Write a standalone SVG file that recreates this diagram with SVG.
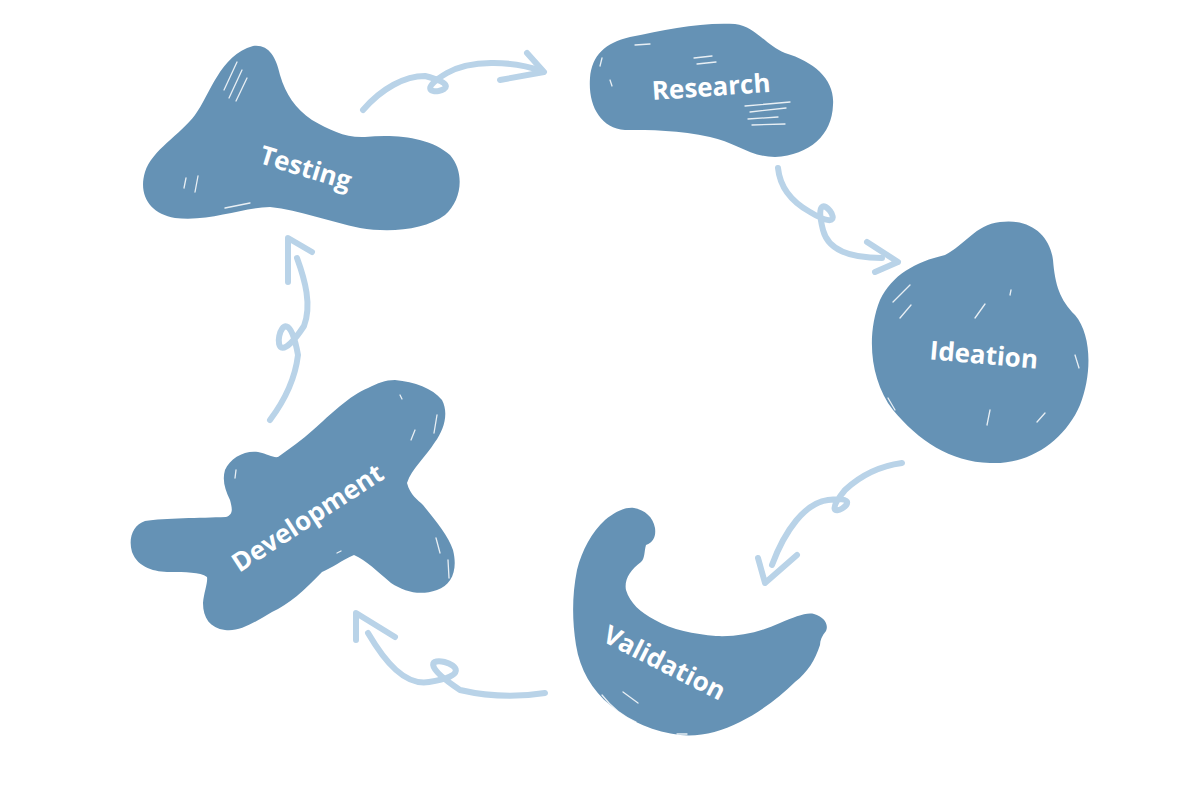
<svg xmlns="http://www.w3.org/2000/svg" width="1200" height="800" viewBox="0 0 1200 800">
<style>
.blob{fill:#6592b5;}
.scr{fill:none;stroke:#ffffff;stroke-width:1.3;stroke-linecap:round;opacity:0.85;}
.lbl{font-family:"Open Sans","Liberation Sans",sans-serif;font-weight:700;font-size:26px;fill:#ffffff;text-anchor:middle;dominant-baseline:central;}
.arr{fill:none;stroke:#b9d3e8;stroke-width:6;stroke-linecap:round;stroke-linejoin:round;}
</style>
<rect width="1200" height="800" fill="#ffffff"/>
<g id="connectors">
  <g id="testing-to-research">
    <path class="arr" d="M363,110 C382,88 405,76 425,76 C483,90 396,103 447,73 C470,60 510,60 542,71"/>
    <path class="arr" d="M527,53 L544,72 L500,80"/>
  </g>
  <g id="research-to-ideation">
    <path class="arr" d="M778,168 C780,188 792,202 810,212 C861,243 808,172 823,230 C828,250 850,258 882,258"/>
    <path class="arr" d="M867,242 L898,262 L875,272"/>
  </g>
  <g id="ideation-to-validation">
    <path class="arr" d="M902,463 C880,466 860,476 845,490 C810,533 878,493 828,500 C805,503 785,530 772,565"/>
    <path class="arr" d="M758,558 L765,583 L797,555"/>
  </g>
  <g id="validation-to-development">
    <path class="arr" d="M545,693 C520,697 490,697 460,690 C382,638 507,670 429,682 C405,686 385,662 368,633"/>
    <path class="arr" d="M356,640 L356,613 L395,637"/>
  </g>
  <g id="development-to-testing">
    <path class="arr" d="M270,420 C285,400 295,380 298,355 C284,276 260,393 304,326 C312,305 305,280 297,258"/>
    <path class="arr" d="M288,282 L288,238 L312,252"/>
  </g>
</g>
<g id="node-testing">
  <path class="blob" d="M253,46 C268,44 276,56 280,75 C286,95 295,108 312,120 C330,130 345,138 365,137 C395,134 430,137 450,155 C465,172 462,200 445,215 C425,230 390,233 360,228 C330,222 300,210 270,207 C240,208 210,222 175,218 C150,214 138,195 145,172 C152,150 180,135 195,115 C210,95 220,55 253,46 Z"/>
  <path class="scr" d="M237,62 L224,90 M242,70 L229,98 M247,78 L236,101 M186,178 L184,188 M198,176 L195,192 M225,208 L250,203"/>
  <text class="lbl" x="306" y="167" transform="rotate(17 306 167)">Testing</text>
</g>
<g id="node-research">
  <path class="blob" d="M590,78 C592,55 605,43 630,37 C665,30 700,22 735,24 C755,26 765,45 785,53 C815,62 835,80 833,105 C832,135 810,155 775,157 C750,157 735,142 710,137 C680,130 650,130 625,130 C600,128 588,105 590,78 Z"/>
  <path class="scr" d="M635,45 L650,44 M694,58 L712,56 M697,64 L716,62 M745,106 L790,102 M750,112 L786,108 M748,119 L778,117 M752,125 L785,124 M602,58 L600,66 M610,80 L612,86"/>
  <text class="lbl" x="711" y="86" transform="rotate(-4 711 86)">Research</text>
</g>
<g id="node-ideation">
  <path class="blob" d="M1000,222 C1030,218 1050,235 1053,260 C1055,285 1060,300 1075,315 C1092,335 1092,375 1080,405 C1065,440 1030,465 990,463 C950,462 918,440 893,410 C870,380 866,335 880,300 C892,275 915,262 945,255 C965,245 975,225 1000,222 Z"/>
  <path class="scr" d="M938,253 L955,235 M893,302 L910,285 M900,318 L911,305 M975,318 L985,304 M1010,295 L1011,290 M990,410 L987,425 M1037,422 L1045,413 M888,398 L895,410 M1075,355 L1079,368"/>
  <text class="lbl" x="984" y="354" transform="rotate(5 984 354)">Ideation</text>
</g>
<g id="node-development">
  <path class="blob" d="M395,380 C415,382 432,388 442,400 C449,413 444,430 435,442 C425,458 412,468 407,483 C410,495 418,500 423,505 C435,520 448,535 453,550 C458,570 452,585 437,590 C420,596 405,592 391,583 C378,572 366,560 354,555 C342,560 332,568 322,572 C305,590 288,605 272,612 C255,622 240,632 225,630 C210,628 203,618 203,603 C204,592 208,583 207,577 C200,572 185,572 170,572 C155,572 138,568 132,552 C128,538 133,525 145,521 C165,518 200,518 226,517 C234,514 232,508 230,500 C225,490 222,480 225,470 C230,458 245,450 258,452 C268,454 273,458 278,457 C290,448 302,440 313,430 C330,415 350,395 368,388 C378,383 385,380 395,380 Z"/>
  <path class="scr" d="M400,395 L402,399 M437,415 L434,433 M415,430 L411,440 M436,538 L440,553 M448,560 L449,578 M337,553 L341,551 M236,470 L235,478"/>
  <text class="lbl" x="307" y="517" transform="rotate(-33 307 517)">Development</text>
</g>
<g id="node-validation">
  <path class="blob" d="M634,508 C645,510 653,517 655,528 C656,536 654,542 646,545 C644,552 645,558 641,562 C630,570 624,580 626,590 C630,603 640,612 655,620 C672,630 694,634 716,636 C740,637 760,632 780,623 C795,617 806,612 814,614 C824,617 829,624 826,631 C822,636 820,640 820,645 C815,660 808,672 795,682 C780,697 760,712 740,722 C720,732 700,737 680,735 C655,732 630,722 610,705 C592,690 580,670 576,645 C572,620 572,595 577,570 C582,550 592,532 605,520 C615,512 624,507 634,508 Z"/>
  <path class="scr" d="M602,695 C612,708 624,717 636,722 M623,692 L638,703 M677,734 L687,734"/>
  <text class="lbl" x="665" y="662" transform="rotate(27 665 662)">Validation</text>
</g>
</svg>
